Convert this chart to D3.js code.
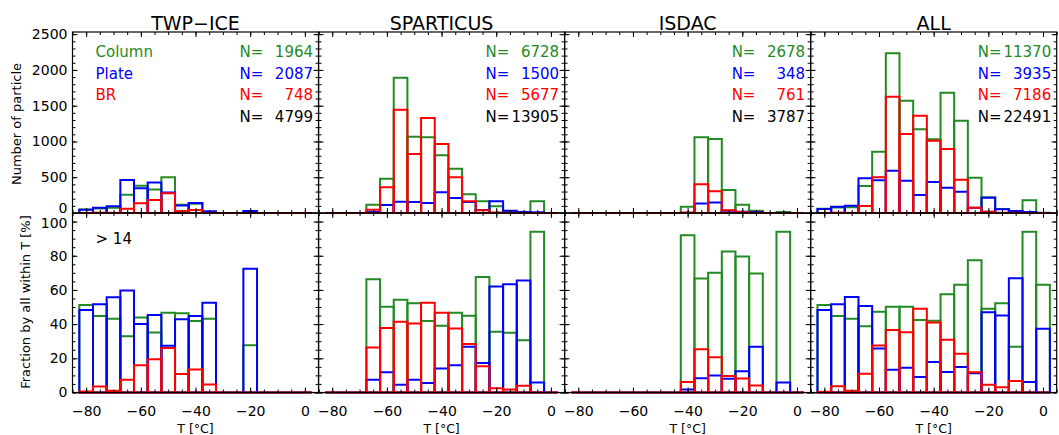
<!DOCTYPE html>
<html><head><meta charset="utf-8">
<script src="https://cdn.jsdelivr.net/npm/d3@7"></script>
<style>
body{margin:0;background:#fff}
svg{display:block}
text{font-family:"DejaVu Sans",sans-serif}
</style>
</head><body>
<svg id="c" width="1059" height="435"></svg>
<script>
// ---------- DATA ----------
const temps = [-80,-75,-70,-65,-60,-55,-50,-45,-40,-35,-30,-25,-20,-15,-10,-5,0];
const campaigns = ["TWP\u2212ICE","SPARTICUS","ISDAC","ALL"];
const seriesNames = ["Column","Plate","BR"];

// Number of particles per 5 °C bin
const twpColumn = [49,64,72,256,381,330,500,114,130,19,0,0,11,0,0,0,0];
const twpPlate  = [46,74,93,463,347,426,287,106,139,23,0,0,28,0,0,0,0];
const twpBR     = [1,5,2,58,138,182,277,27,42,2,0,0,0,0,0,0,0];

const spaColumn = [0,0,0,117,480,1892,1067,1058,806,620,261,163,93,18,7,163,0];
const spaPlate  = [0,0,0,13,113,157,153,139,291,211,155,42,163,33,15,10,0];
const spaBR     = [0,0,0,46,361,1442,826,1329,965,498,165,37,7,1,1,0,0];

const isdColumn = [0,0,0,0,0,0,0,0,89,1058,1034,322,116,33,0,14,0];
const isdPlate  = [0,0,0,0,0,0,0,0,2,133,148,31,18,13,0,1,0];
const isdBR     = [0,0,0,0,0,0,0,0,6,401,304,37,12,2,0,0,0];

const allColumn = [58,77,80,377,857,2232,1570,1170,1030,1682,1291,494,219,55,10,177,2];
const allPlate  = [56,89,103,485,457,592,452,252,433,354,298,73,214,51,28,14,1];
const allBR     = [1,5,2,98,499,1626,1104,1361,1011,895,466,75,19,3,2,0,0];

// Fraction by all within T [%]
const twpColumnPct = [51.2,44.7,43.1,32.9,43.9,35.1,46.7,46.3,41.8,43.1,0,0,27.6,0,0,0,0];
const twpPlatePct  = [48.2,51.6,55.7,59.6,40.0,45.3,27.3,42.9,44.7,52.5,0,0,72.4,0,0,0,0];
const twpBRPct     = [0.6,3.5,1.0,7.5,15.9,19.4,26.0,10.8,13.5,4.7,0,0,0,0,0,0,0];

const spaColumnPct = [0,0,0,66.3,50.2,54.3,52.2,41.8,39.0,46.7,44.9,67.5,35.5,34.9,30.6,94.1,0];
const spaPlatePct  = [0,0,0,7.5,11.8,4.5,7.5,5.5,14.1,15.9,26.7,17.3,62.0,63.3,65.5,5.9,0];
const spaBRPct     = [0,0,0,26.3,37.8,41.4,40.4,52.5,46.7,37.5,28.4,15.3,2.5,1.8,3.9,0,0];

const isdColumnPct = [0,0,0,0,0,0,0,0,92.0,66.7,70.0,82.5,79.6,69.6,0,94.1,0];
const isdPlatePct  = [0,0,0,0,0,0,0,0,1.8,8.4,10.0,8.0,12.4,26.7,0,5.9,0];
const isdBRPct     = [0,0,0,0,0,0,0,0,6.1,25.3,20.6,9.6,8.2,4.1,0,0,0];

const allColumnPct = [51.2,44.7,43.1,38.8,47.3,50.2,50.2,42.4,42.0,57.5,63.0,77.3,49.0,52.2,26.7,94.1,63.1];
const allPlatePct  = [48.2,51.6,55.9,50.6,25.7,13.3,14.5,9.0,17.8,12.0,14.9,11.3,47.0,45.1,66.9,6.1,37.3];
const allBRPct     = [0.4,3.7,1.0,11.0,27.5,36.5,35.3,49.0,41.0,30.8,22.7,11.8,4.5,3.1,6.7,0,0];

const nColumn = [1964,6728,2678,11370];
const nPlate  = [2087,1500,348,3935];
const nBR     = [748,5677,761,7186];
const nAll    = [4799,13905,3787,22491];

const xTickValues = [-80,-60,-40,-20,0];
const yTopTickValues = [0,500,1000,1500,2000,2500];
const yBotTickValues = [0,20,40,60,80,100];
const thresholdLabel = "> 14";

// ---------- LAYOUT / STYLE ----------
const colors = ["#228b22","#0000ff","#ff0000"];
const L = 72.5, R = 1056.7, pw = (R - L) / 4;
const yTopEdge = 32, yMid = 213, yBot = 392.5;

const counts = [[twpColumn,twpPlate,twpBR],[spaColumn,spaPlate,spaBR],[isdColumn,isdPlate,isdBR],[allColumn,allPlate,allBR]];
const pcts = [[twpColumnPct,twpPlatePct,twpBRPct],[spaColumnPct,spaPlatePct,spaBRPct],[isdColumnPct,isdPlatePct,isdBRPct],[allColumnPct,allPlatePct,allBRPct]];
const nLists = [nColumn,nPlate,nBR,nAll];
const nColors = [colors[0],colors[1],colors[2],"#000"];

const svg = d3.select("#c");
const yTop = d3.scaleLinear().domain([0,2530]).range([yMid, yTopEdge]);
const yBotS = d3.scaleLinear().domain([0,105]).range([yBot, yMid]);

const xMinor = d3.range(-85, 5.01, 5);
const yTopMinor = d3.range(0, 2501, 100);
const yBotMinor = d3.range(0, 105.01, 5);
const fmt = d => d3.format("d")(d).replace("-","\u2212");

function tickAxis(g, axis) {
  g.call(axis);
  g.select(".domain").remove();
  g.selectAll(".tick line").attr("stroke","#000").attr("stroke-width",1);
}

campaigns.forEach((name, p) => {
  const x0 = L + p * pw, x1 = x0 + pw;
  const x = d3.scaleLinear().domain([-85,5]).range([x0, x1]);
  const half = (x(5) - x(0)) / 2;

  [[yTop, counts[p]], [yBotS, pcts[p]]].forEach(([y, data]) => {
    const g = svg.append("g");
    data.forEach((vals, s) => {
      g.selectAll(null).data(temps.map((t,i)=>({t, v: vals[i]}))).enter()
        .append("path")
        .attr("d", d => {
          const xa = x(d.t) - half, xb = x(d.t) + half, yv = y(d.v), yb = y(0);
          return `M${xa},${yb}V${yv}H${xb}V${yb}Z`;
        })
        .attr("fill","none")
        .attr("stroke", colors[s])
        .attr("stroke-width", 2)
        .attr("stroke-linejoin","miter");
    });
  });

  // frames
  svg.append("rect").attr("x",x0).attr("y",yTopEdge).attr("width",pw).attr("height",yMid-yTopEdge)
    .attr("fill","none").attr("stroke","#000").attr("stroke-width",1.2);
  svg.append("rect").attr("x",x0).attr("y",yMid).attr("width",pw).attr("height",yBot-yMid)
    .attr("fill","none").attr("stroke","#000").attr("stroke-width",1.2);

  // ticks (inward)
  const specs = [
    [yTopEdge, d3.axisTop], [yMid, d3.axisBottom], [yMid, d3.axisTop], [yBot, d3.axisBottom]
  ];
  specs.forEach(([yy, ax]) => {
    tickAxis(svg.append("g").attr("transform",`translate(0,${yy})`),
      ax(x).tickValues(xTickValues).tickSize(-5).tickFormat(""));
    tickAxis(svg.append("g").attr("transform",`translate(0,${yy})`),
      ax(x).tickValues(xMinor).tickSize(-3).tickFormat(""));
  });
  [[yTop, yTopTickValues, yTopMinor],[yBotS, yBotTickValues, yBotMinor]].forEach(([y, maj, mnr]) => {
    [[x0, d3.axisLeft],[x1, d3.axisRight]].forEach(([xx, ax]) => {
      tickAxis(svg.append("g").attr("transform",`translate(${xx},0)`),
        ax(y).tickValues(maj).tickSize(-5).tickFormat(""));
      tickAxis(svg.append("g").attr("transform",`translate(${xx},0)`),
        ax(y).tickValues(mnr).tickSize(-3).tickFormat(""));
    });
  });

  // x tick labels
  const gx = svg.append("g").attr("transform",`translate(0,${yBot})`)
    .call(d3.axisBottom(x).tickValues(xTickValues).tickSize(0).tickPadding(14).tickFormat(fmt));
  gx.select(".domain").remove();
  gx.selectAll("text").attr("font-size",14).attr("font-family","DejaVu Sans").attr("fill","#000");

  // x title
  svg.append("text").attr("x",(x0+x1)/2).attr("y",433).attr("text-anchor","middle")
    .attr("font-size",12.5).text("T [\u00B0C]");

  // panel title
  svg.append("text").attr("x",(x0+x1)/2).attr("y",30).attr("text-anchor","middle")
    .attr("font-size",19).text(name);

  // N labels
  const rowsY = [57, 78.5, 100, 121.5];
  nLists.forEach((arr, r) => {
    svg.append("text").attr("x", x1 - 79).attr("y", rowsY[r]).attr("font-size",15)
      .attr("fill", nColors[r]).text("N=");
    svg.append("text").attr("x", x1 - 5.5).attr("y", rowsY[r]).attr("font-size",15)
      .attr("text-anchor","end").attr("fill", nColors[r]).text(arr[p]);
  });

  if (p === 0) {
    // legend
    seriesNames.forEach((s, i) => {
      svg.append("text").attr("x", x0 + 23).attr("y", rowsY[i]).attr("font-size",15)
        .attr("fill", colors[i]).text(s);
    });
    svg.append("text").attr("x", x0 + 23).attr("y", 244).attr("font-size",15).text(thresholdLabel);

    // y tick labels
    const gy1 = svg.append("g").attr("transform",`translate(${x0},0)`)
      .call(d3.axisLeft(yTop).tickValues(yTopTickValues).tickSize(0).tickPadding(5).tickFormat(fmt));
    gy1.select(".domain").remove();
    gy1.selectAll("text").attr("font-size",14).attr("font-family","DejaVu Sans").attr("fill","#000")
      .attr("transform", d => d === 0 ? "translate(0,-5)" : null);
    const gy2 = svg.append("g").attr("transform",`translate(${x0},0)`)
      .call(d3.axisLeft(yBotS).tickValues(yBotTickValues).tickSize(0).tickPadding(5).tickFormat(fmt));
    gy2.select(".domain").remove();
    gy2.selectAll("text").attr("font-size",14).attr("font-family","DejaVu Sans").attr("fill","#000")
      .attr("transform", d => d === 100 ? "translate(0,1)" : null);

    // y titles
    svg.append("text").attr("transform","translate(21,124) rotate(-90)")
      .attr("text-anchor","middle").attr("font-size",13).text("Number of particle");
    svg.append("text").attr("transform","translate(30,302) rotate(-90)")
      .attr("text-anchor","middle").attr("font-size",13).text("Fraction by all within T [%]");
  }
});
</script>
</body></html>
